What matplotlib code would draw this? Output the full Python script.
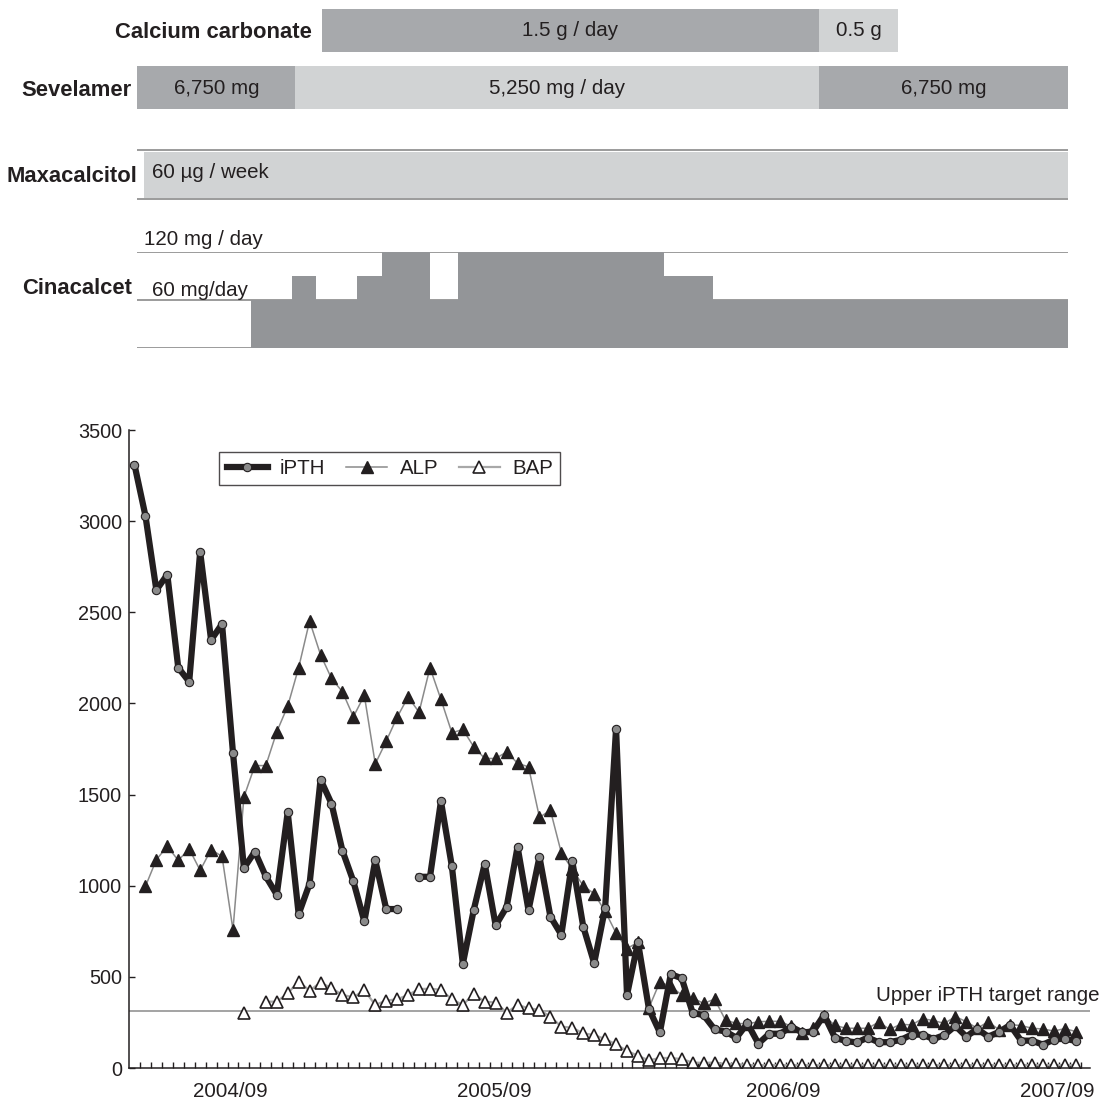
import numpy as np
import matplotlib
matplotlib.use("Agg")
import matplotlib.pyplot as plt

plt.rcParams['font.family'] = ['Liberation Sans', 'DejaVu Sans']

nan = np.nan

# lab values, one per visit (about every two weeks)
ipth = [3310, 3030, 2622, 2707, 2196, 2119, 2831, 2348, 2436, 1729,
        1097, 1187, 1051, 951, 1403, 844, 1011, 1582, 1451, 1192,
        1024, 804, 1139, 872, 872, nan, 1049, 1049, 1463, 1106,
        572, 868, 1120, 782, 883, 1213, 866, 1158, 831, 731,
        1134, 776, 575, 877, 1861, 401, 690, 325, 195, 515,
        492, 302, 290, 212, 200, 166, 245, 134, 188, 188,
        227, 195, 200, 291, 166, 148, 140, 167, 141, 142,
        154, 183, 183, 159, 181, 231, 172, 215, 172, 198,
        236, 150, 150, 128, 156, 161, 148]
alp = [nan, 996, 1143, 1216, 1139, 1202, 1084, 1198, 1161, 758,
       1487, 1659, 1659, 1844, 1985, 2196, 2452, 2267, 2137, 2064,
       1927, 2044, 1668, 1793, 1925, 2035, 1952, 2196, 2022, 1839,
       1857, 1762, 1698, 1698, 1734, 1672, 1652, 1375, 1414, 1180,
       1090, 1000, 956, 860, 740, 655, 690, 330, 472, 447,
       401, 385, 354, 378, 262, 245, 242, 254, 256, 256,
       228, 192, 222, 285, 234, 218, 218, 218, 252, 212,
       240, 236, 271, 260, 245, 282, 254, 218, 254, 209,
       238, 233, 218, 214, 203, 216, 200]
bap = [nan, nan, nan, nan, nan, nan, nan, nan, nan, nan,
       300, nan, 364, 364, 410, 474, 425, 469, 438, 401,
       388, 427, 346, 370, 377, 401, 433, 435, 429, 377,
       346, 407, 364, 359, 304, 346, 328, 319, 282, 227,
       221, 190, 181, 159, 130, 94, 67, 42, 55, 55,
       49, 30, 28, 30, 22, 22, 16, 15, 16, 16,
       15, 16, 15, 16, 16, 15, 16, 16, 15, 16,
       16, 15, 16, 16, 15, 16, 16, 15, 16, 16,
       15, 16, 16, 15, 16, 16, 15]
target = 310

year_labels = ['2004/09', '2005/09', '2006/09', '2007/09']
year_pos = [8.8, 32.9, 59.3, 84.3]

# medication periods (same visit scale)
calcium_edges = [17.1, 62.5, 69.8]
calcium_text = ['1.5 g / day', '0.5 g']
sevelamer_edges = [0.27, 14.7, 62.5, 85.3]
sevelamer_text = ['6,750 mg', '5,250 mg / day', '6,750 mg']
maxa_edges = [0.9, 85.3]
cina_x = [10.68, 14.39, 16.62, 20.37, 22.61, 27.03, 29.59, 48.40, 52.88, 85.30]
cina_dose = [60, 90, 60, 90, 120, 60, 120, 90, 60, 60]

W, H = 1102, 1101
dark = '#231f20'
g_dark = '#a7a9ac'
g_light = '#d1d3d4'
g_cina = '#939598'
line_gray = '#8a8a8a'
x_lo, x_hi = -0.5, 87.3
ax_l, ax_w = 129 / W, 961 / W

fig = plt.figure(figsize=(W / 100, H / 100), dpi=100)

# ---- top: medication bars ----
axt = fig.add_axes([ax_l, 1 - 230 / H, ax_w, 230 / H])
axt.set_xlim(x_lo, x_hi)
axt.set_ylim(230, 0)
axt.axis('off')

cols = [g_dark, g_light]
for k, txt in enumerate(calcium_text):
    a, b = calcium_edges[k], calcium_edges[k + 1]
    axt.barh(30.5, b - a, left=a, height=43, color=cols[k], lw=0)
    axt.text((a + b) / 2, 31, txt, ha='center', va='center', fontsize=14.8, color=dark)
cols = [g_dark, g_light, g_dark]
for k, txt in enumerate(sevelamer_text):
    a, b = sevelamer_edges[k], sevelamer_edges[k + 1]
    axt.barh(87.5, b - a, left=a, height=43, color=cols[k], lw=0)
    axt.text((a + b) / 2, 88, txt, ha='center', va='center', fontsize=14.8, color=dark)
axt.barh(175, maxa_edges[1] - maxa_edges[0], left=maxa_edges[0], height=46, color=g_light, lw=0)
axt.hlines([150, 199], sevelamer_edges[0], sevelamer_edges[-1], color=line_gray, lw=1.2)
axt.text(maxa_edges[0] + 0.7, 173, '60 µg / week', ha='left', va='center', fontsize=14.8, color=dark)

lab_kw = dict(ha='right', va='center', fontsize=15.8, fontweight='bold', color=dark,
              textcoords='offset points')
axt.annotate('Calcium carbonate', (calcium_edges[0], 33), xytext=(-7, 0), **lab_kw)
axt.annotate('Sevelamer', (sevelamer_edges[0], 90), xytext=(-4, 0), **lab_kw)
axt.annotate('Maxacalcitol', (sevelamer_edges[0], 176), xytext=(0, 0), **lab_kw)

# ---- cinacalcet step panel ----
axc = fig.add_axes([ax_l, 1 - 348 / H, ax_w, 96 / H])
axc.set_xlim(x_lo, x_hi)
axc.set_ylim(0, 120)
axc.axis('off')
axc.hlines([0, 60, 120], sevelamer_edges[0], sevelamer_edges[-1], color=line_gray, lw=1.2, zorder=1)
axc.fill_between(cina_x, cina_dose, step='post', color=g_cina, lw=0, zorder=2)
axc.annotate('120 mg / day', (0.9, 120), xytext=(0, 9), textcoords='offset points',
             ha='left', va='center', fontsize=14.8, color=dark, annotation_clip=False)
axc.annotate('60 mg/day', (1.6, 60), xytext=(0, 7), textcoords='offset points',
             ha='left', va='center', fontsize=14.8, color=dark, annotation_clip=False)
axc.annotate('Cinacalcet', (sevelamer_edges[0], 60), xytext=(-4, 8), **lab_kw,
             annotation_clip=False)

# ---- bottom: lab values ----
ax = fig.add_axes([ax_l, 33 / H, ax_w, 638 / H])
x = np.arange(len(ipth))
ax.axhline(target, color=line_gray, lw=1.1, zorder=1)
ax.plot(x, bap, color='#a8a8a8', lw=1.6, marker='^', ms=8, mfc='white',
        mec=dark, mew=1.2, label='BAP', zorder=2)
ax.plot(x, alp, color=line_gray, lw=1.1, marker='^', ms=8, mfc=dark,
        mec=dark, label='ALP', zorder=3)
ax.plot(x, ipth, color=dark, lw=4.5, marker='o', ms=6, mfc='#8a8a8a',
        mec=dark, mew=0.8, label='iPTH', zorder=4)

ax.set_xlim(x_lo, x_hi)
ax.set_ylim(0, 3500)
ax.set_yticks(np.arange(0, 3501, 500))
ax.set_xticks(year_pos)
ax.set_xticklabels(year_labels)
ax.set_xticks(np.arange(0.5, len(ipth), 1), minor=True)
ax.tick_params(axis='x', which='major', length=0, pad=10, labelsize=14.8, colors=dark)
ax.tick_params(axis='x', which='minor', direction='in', length=4, width=1, color=dark)
ax.tick_params(axis='y', direction='in', length=4, width=1, pad=5, labelsize=14.3, colors=dark)
for s in ['top', 'right']:
    ax.spines[s].set_visible(False)
for s in ['left', 'bottom']:
    ax.spines[s].set_color(dark)
    ax.spines[s].set_linewidth(1.1)

ax.text(88.2, 368, 'Upper iPTH target range', ha='right', va='baseline',
        fontsize=14.8, color=dark)

h, l = ax.get_legend_handles_labels()
leg = ax.legend(h[::-1], l[::-1], ncol=3, loc='upper left', bbox_to_anchor=(0.094, 0.966),
                fontsize=14.8, frameon=True, fancybox=False, handlelength=2.0,
                handletextpad=0.6, columnspacing=1.0, borderpad=0.35, borderaxespad=0)
leg.get_frame().set_edgecolor(dark)
leg.get_frame().set_linewidth(1.0)
for t in leg.get_texts():
    t.set_color(dark)

fig.savefig('out.png', dpi=100)
